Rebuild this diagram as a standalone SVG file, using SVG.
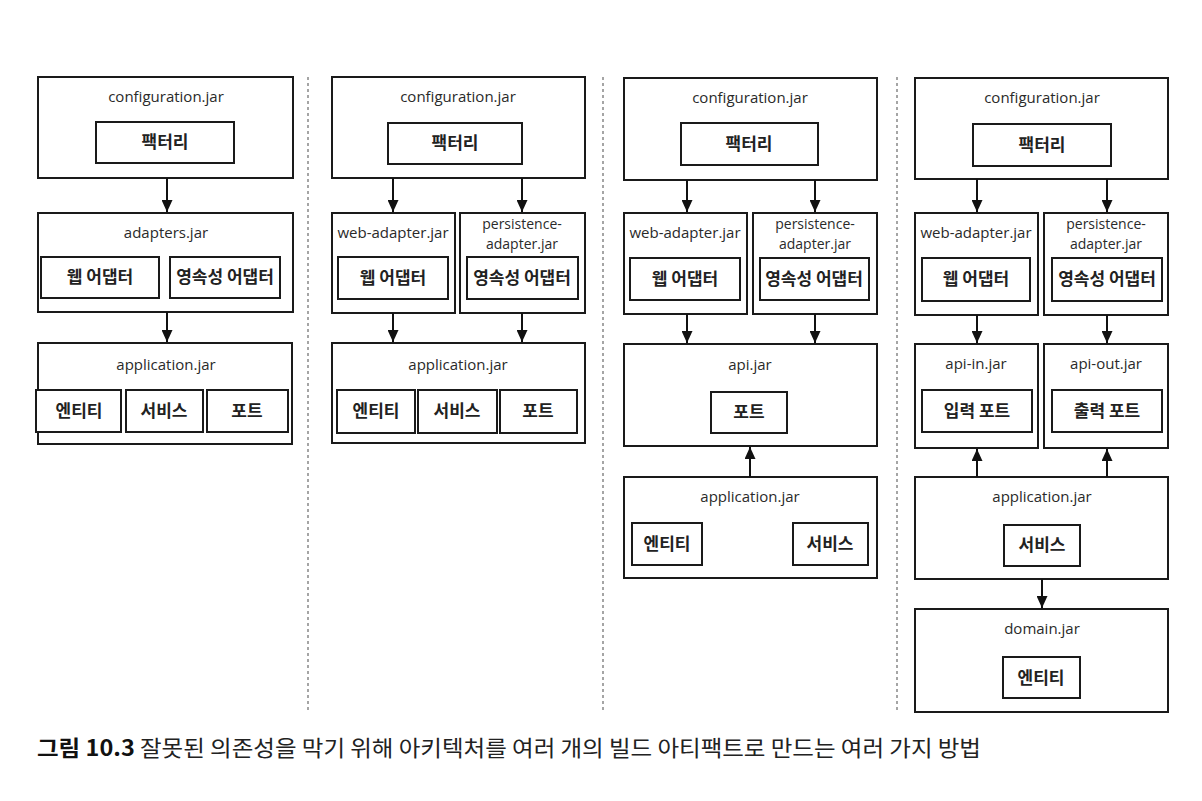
<svg xmlns="http://www.w3.org/2000/svg" width="1202" height="801" viewBox="0 0 1202 801">
<defs>
<marker id="ah" markerUnits="userSpaceOnUse" markerWidth="12" markerHeight="11" refX="12" refY="5.5" orient="auto" viewBox="0 0 12 11">
<path d="M0,0 L12,5.5 L0,11 z" fill="#111"/>
</marker>
<style>
.box{fill:#fff;stroke:#1a1a1a;stroke-width:2}
.in{fill:#fff;stroke:#1a1a1a;stroke-width:2}
.lt{font-family:"Open Sans","Noto Sans",sans-serif;font-size:15px;fill:#2a2a2a;text-anchor:middle}
.l2{font-size:14px}
.kt{font-family:"Noto Sans CJK KR",sans-serif;font-size:17px;font-weight:700;fill:#222;text-anchor:middle}
.con{stroke:#111;stroke-width:2;fill:none;marker-end:url(#ah)}
.sep{stroke:#888;stroke-width:1.5;stroke-dasharray:3 3;fill:none}
.cap{font-family:"Noto Sans CJK KR",sans-serif;font-size:22px;fill:#222}
</style>
</defs>
<rect width="1202" height="801" fill="#fff"/>

<g id="separators">
<line class="sep" x1="308" y1="77" x2="308" y2="712"/>
<line class="sep" x1="603" y1="77" x2="603" y2="712"/>
<line class="sep" x1="897" y1="77" x2="897" y2="712"/>
</g>

<!-- Panel 1 -->
<g id="p1-configuration">
<rect class="box" x="38" y="77" width="255" height="101"/>
<text class="lt" x="166" y="102">configuration.jar</text>
<rect class="in" x="96" y="122" width="138" height="41"/>
<text class="kt" x="165" y="148">팩터리</text>
</g>
<g id="p1-adapters">
<rect class="box" x="38" y="213" width="255" height="99"/>
<text class="lt" x="166" y="238">adapters.jar</text>
<rect class="in" x="41" y="257" width="118" height="41"/>
<text class="kt" x="100" y="283">웹 어댑터</text>
<rect class="in" x="170" y="257" width="110" height="41"/>
<text class="kt" x="225" y="283">영속성 어댑터</text>
</g>
<g id="p1-application">
<rect class="box" x="38" y="343" width="254" height="101"/>
<text class="lt" x="166" y="370">application.jar</text>
<rect class="in" x="36" y="390" width="85" height="42"/>
<text class="kt" x="79" y="417">엔티티</text>
<rect class="in" x="126" y="390" width="77" height="42"/>
<text class="kt" x="164" y="417">서비스</text>
<rect class="in" x="207" y="390" width="81" height="42"/>
<text class="kt" x="247" y="417">포트</text>
</g>

<!-- Panel 2 -->
<g id="p2-configuration">
<rect class="box" x="332" y="77" width="253" height="101"/>
<text class="lt" x="458" y="102">configuration.jar</text>
<rect class="in" x="388" y="123" width="134" height="41"/>
<text class="kt" x="455" y="149">팩터리</text>
</g>
<g id="p2-web-adapter">
<rect class="box" x="332" y="213" width="123" height="100"/>
<text class="lt" x="393" y="238">web-adapter.jar</text>
<rect class="in" x="338" y="257" width="110" height="42"/>
<text class="kt" x="393" y="284">웹 어댑터</text>
</g>
<g id="p2-persistence-adapter">
<rect class="box" x="460" y="213" width="125" height="100"/>
<text class="lt l2" x="522" y="229">persistence-</text>
<text class="lt l2" x="522" y="249">adapter.jar</text>
<rect class="in" x="467" y="257" width="111" height="42"/>
<text class="kt" x="522" y="284">영속성 어댑터</text>
</g>
<g id="p2-application">
<rect class="box" x="332" y="343" width="253" height="100"/>
<text class="lt" x="458" y="370">application.jar</text>
<rect class="in" x="337" y="390" width="78" height="43"/>
<text class="kt" x="376" y="417">엔티티</text>
<rect class="in" x="418" y="390" width="79" height="43"/>
<text class="kt" x="457" y="417">서비스</text>
<rect class="in" x="500" y="390" width="77" height="43"/>
<text class="kt" x="538" y="417">포트</text>
</g>

<!-- Panel 3 -->
<g id="p3-configuration">
<rect class="box" x="624" y="78" width="253" height="102"/>
<text class="lt" x="750" y="103">configuration.jar</text>
<rect class="in" x="681" y="123" width="137" height="42"/>
<text class="kt" x="749" y="150">팩터리</text>
</g>
<g id="p3-web-adapter">
<rect class="box" x="624" y="213" width="123" height="101"/>
<text class="lt" x="685" y="238">web-adapter.jar</text>
<rect class="in" x="630" y="258" width="110" height="42"/>
<text class="kt" x="685" y="285">웹 어댑터</text>
</g>
<g id="p3-persistence-adapter">
<rect class="box" x="753" y="213" width="124" height="101"/>
<text class="lt l2" x="815" y="229">persistence-</text>
<text class="lt l2" x="815" y="249">adapter.jar</text>
<rect class="in" x="760" y="258" width="109" height="42"/>
<text class="kt" x="814" y="285">영속성 어댑터</text>
</g>
<g id="p3-api">
<rect class="box" x="624" y="344" width="253" height="102"/>
<text class="lt" x="750" y="370">api.jar</text>
<rect class="in" x="711" y="392" width="76" height="41"/>
<text class="kt" x="749" y="418">포트</text>
</g>
<g id="p3-application">
<rect class="box" x="624" y="477" width="253" height="101"/>
<text class="lt" x="750" y="502">application.jar</text>
<rect class="in" x="632" y="523" width="70" height="42"/>
<text class="kt" x="667" y="550">엔티티</text>
<rect class="in" x="793" y="523" width="75" height="42"/>
<text class="kt" x="830" y="550">서비스</text>
</g>

<!-- Panel 4 -->
<g id="p4-configuration">
<rect class="box" x="915" y="78" width="253" height="101"/>
<text class="lt" x="1042" y="103">configuration.jar</text>
<rect class="in" x="973" y="124" width="138" height="42"/>
<text class="kt" x="1042" y="151">팩터리</text>
</g>
<g id="p4-web-adapter">
<rect class="box" x="915" y="213" width="123" height="102"/>
<text class="lt" x="976" y="238">web-adapter.jar</text>
<rect class="in" x="922" y="258" width="108" height="43"/>
<text class="kt" x="976" y="285">웹 어댑터</text>
</g>
<g id="p4-persistence-adapter">
<rect class="box" x="1044" y="213" width="124" height="102"/>
<text class="lt l2" x="1106" y="229">persistence-</text>
<text class="lt l2" x="1106" y="249">adapter.jar</text>
<rect class="in" x="1052" y="258" width="110" height="43"/>
<text class="kt" x="1107" y="285">영속성 어댑터</text>
</g>
<g id="p4-api-in">
<rect class="box" x="915" y="344" width="123" height="104"/>
<text class="lt" x="976" y="369">api-in.jar</text>
<rect class="in" x="922" y="390" width="110" height="42"/>
<text class="kt" x="977" y="417">입력 포트</text>
</g>
<g id="p4-api-out">
<rect class="box" x="1044" y="344" width="124" height="104"/>
<text class="lt" x="1106" y="369">api-out.jar</text>
<rect class="in" x="1052" y="390" width="110" height="42"/>
<text class="kt" x="1107" y="417">출력 포트</text>
</g>
<g id="p4-application">
<rect class="box" x="915" y="477" width="253" height="102"/>
<text class="lt" x="1042" y="502">application.jar</text>
<rect class="in" x="1004" y="525" width="76" height="41"/>
<text class="kt" x="1042" y="551">서비스</text>
</g>
<g id="p4-domain">
<rect class="box" x="915" y="609" width="253" height="103"/>
<text class="lt" x="1042" y="634">domain.jar</text>
<rect class="in" x="1003" y="657" width="77" height="41"/>
<text class="kt" x="1041" y="684">엔티티</text>
</g>

<g id="connectors">
<line class="con" x1="167" y1="178" x2="167" y2="212"/>
<line class="con" x1="167" y1="312" x2="167" y2="342"/>

<line class="con" x1="393" y1="178" x2="393" y2="212"/>
<line class="con" x1="522" y1="178" x2="522" y2="212"/>
<line class="con" x1="393" y1="313" x2="393" y2="342"/>
<line class="con" x1="522" y1="313" x2="522" y2="342"/>

<line class="con" x1="687" y1="180" x2="687" y2="212"/>
<line class="con" x1="815" y1="180" x2="815" y2="212"/>
<line class="con" x1="687" y1="314" x2="687" y2="343"/>
<line class="con" x1="815" y1="314" x2="815" y2="343"/>
<line class="con" x1="750" y1="477" x2="750" y2="447"/>

<line class="con" x1="977" y1="179" x2="977" y2="212"/>
<line class="con" x1="1107" y1="179" x2="1107" y2="212"/>
<line class="con" x1="977" y1="315" x2="977" y2="343"/>
<line class="con" x1="1107" y1="315" x2="1107" y2="343"/>
<line class="con" x1="977" y1="477" x2="977" y2="449"/>
<line class="con" x1="1107" y1="477" x2="1107" y2="449"/>
<line class="con" x1="1042" y1="579" x2="1042" y2="608"/>
</g>

<text class="cap" x="37" y="756" textLength="944" lengthAdjust="spacingAndGlyphs"><tspan font-weight="700" fill="#111">그림 10.3</tspan> 잘못된 의존성을 막기 위해 아키텍처를 여러 개의 빌드 아티팩트로 만드는 여러 가지 방법</text>
</svg>
